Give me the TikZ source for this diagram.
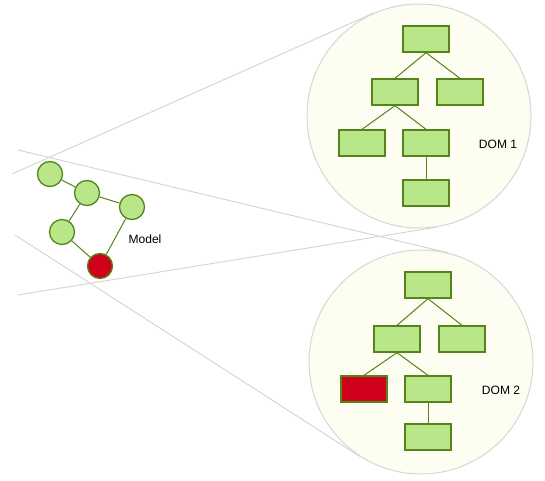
\documentclass[tikz,border=0pt]{standalone}
\usepackage{fontspec}
\setmainfont{Liberation Sans}
\usetikzlibrary{calc}

\definecolor{leafgreen}{RGB}{185,230,137}
\definecolor{leafline}{RGB}{84,132,26}
\definecolor{hotred}{RGB}{208,2,27}
\definecolor{lensfill}{RGB}{254,253,241}
\definecolor{lensline}{RGB}{214,214,214}

\tikzset{
  view/.style={circle,draw=lensline,fill=lensfill,minimum size=6.72cm,inner sep=0pt,line width=.03cm},
  elem/.style={rectangle,draw=leafline,fill=leafgreen,minimum width=1.38cm,minimum height=.78cm,inner sep=0pt,line width=.04cm},
  badelem/.style={elem,fill=hotred},
  obj/.style={circle,draw=leafline,fill=leafgreen,minimum size=.75cm,inner sep=0pt,line width=.04cm},
  badobj/.style={obj,fill=hotred},
  link/.style={draw=leafline,line width=.03cm},
  ray/.style={draw=lensline,line width=.03cm},
  tag/.style={font=\fontsize{10.3pt}{12pt}\selectfont,inner sep=0pt}
}

\begin{document}
\begin{tikzpicture}
\useasboundingbox (0,0) rectangle (16.35cm,-14.4cm);


\node (dom1) at(12.57cm,-3.48cm) [view]{};
\node (dom2) at(12.63cm,-10.86cm) [view]{};

\coordinate (lensA) at(0.36cm,-5.22cm);
\coordinate (lensB) at(0.54cm,-4.5cm);
\coordinate (lensC) at(0.54cm,-8.85cm);
\coordinate (lensD) at(0.45cm,-7.05cm);

\path (lensA) edge[ray] (dom1.114);
\path (lensC) edge[ray] (dom1.279);
\path (lensB) edge[ray] (dom2.76.5);
\path (lensD) edge[ray] (dom2.237.4);


\node (t1) at(12.78cm,-1.17cm) [elem]{};
\node (l1) at(11.85cm,-2.76cm) [elem]{};
\node (r1) at(13.8cm,-2.76cm) [elem]{};
\node (ll1) at(10.86cm,-4.29cm) [elem]{};
\node (lr1) at(12.78cm,-4.29cm) [elem]{};
\node (b1) at(12.78cm,-5.79cm) [elem]{};
\node (tag1) at(14.94cm,-4.32cm) [tag]{DOM 1};

\path (t1.south) edge[link] (l1.north);
\path (t1.south) edge[link] (r1.north);
\path (l1.south) edge[link] (ll1.north);
\path (l1.south) edge[link] (lr1.north);
\path (lr1.south) edge[link] (b1.north);


\node (t2) at(12.84cm,-8.55cm) [elem]{};
\node (l2) at(11.91cm,-10.17cm) [elem]{};
\node (r2) at(13.86cm,-10.17cm) [elem]{};
\node (ll2) at(10.92cm,-11.67cm) [badelem]{};
\node (lr2) at(12.84cm,-11.67cm) [elem]{};
\node (b2) at(12.84cm,-13.11cm) [elem]{};
\node (tag2) at(15.03cm,-11.7cm) [tag]{DOM 2};

\path (t2.south) edge[link] (l2.north);
\path (t2.south) edge[link] (r2.north);
\path (l2.south) edge[link] (ll2.north);
\path (l2.south) edge[link] (lr2.north);
\path (lr2.south) edge[link] (b2.north);


\node (m1) at(1.5cm,-5.22cm) [obj]{};
\node (m2) at(2.61cm,-5.79cm) [obj]{};
\node (m3) at(3.96cm,-6.21cm) [obj]{};
\node (m4) at(1.86cm,-6.96cm) [obj]{};
\node (m5) at(3cm,-7.98cm) [badobj]{};
\node (model) at(4.35cm,-7.17cm) [tag]{Model};

\path (m1) edge[link] (m2);
\path (m2) edge[link] (m3);
\path (m2) edge[link] (m4);
\path (m4) edge[link] (m5);
\path (m3) edge[link] (m5);

\end{tikzpicture}
\end{document}
